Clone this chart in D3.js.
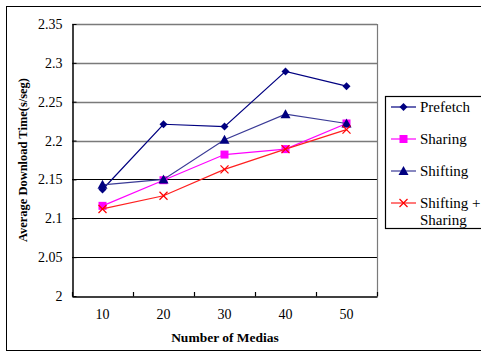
<!DOCTYPE html>
<html>
<head>
<meta charset="utf-8">
<script src="https://cdn.jsdelivr.net/npm/d3@7"></script>
<style>
  body { margin: 0; background: #fff; }
  svg text { font-family: "Liberation Serif", "DejaVu Serif", serif !important; }
</style>
</head>
<body>
<figure id="chart" style="margin:0"></figure>
<script>
// data
const medias = [10, 20, 30, 40, 50];
const prefetch = [2.137, 2.221, 2.218, 2.289, 2.270];
const sharing = [2.116, 2.149, 2.182, 2.189, 2.222];
const shifting = [2.143, 2.150, 2.201, 2.234, 2.222];
const shiftSharing = [2.112, 2.129, 2.163, 2.189, 2.214];
const yTicks = [2, 2.05, 2.1, 2.15, 2.2, 2.25, 2.3, 2.35];

const series = [
  { name: ['Prefetch'], values: prefetch, color: '#000080', line: '#000080', mark: 'diamond' },
  { name: ['Sharing'], values: sharing, color: '#ff00ff', line: '#ff00ff', mark: 'square' },
  { name: ['Shifting'], values: shifting, color: '#000080', line: '#3a3a96', mark: 'triangle' },
  { name: ['Shifting +', 'Sharing'], values: shiftSharing, color: '#ff0000', line: '#ff2020', mark: 'cross' }
];

const W = 481, H = 352;
const plot = { left: 72, right: 377, top: 24, bottom: 296 };

const svg = d3.select('#chart').append('svg')
    .attr('width', W)
    .attr('height', H);

// outer frame
svg.append('rect')
    .attr('x', 6.5).attr('y', 6.5)
    .attr('width', 490).attr('height', 344)
    .attr('fill', 'none').attr('stroke', '#000').attr('stroke-width', 1);

const x = d3.scaleBand()
    .domain(medias)
    .range([plot.left, plot.right]);

const y = d3.scaleLinear()
    .domain([2, 2.35])
    .range([plot.bottom, plot.top]);

// gridlines
svg.append('g').selectAll('line')
    .data(yTicks.filter(d => d > 2))
    .enter().append('line')
    .attr('x1', plot.left).attr('x2', plot.right)
    .attr('y1', d => Math.round(y(d)) + 0.5)
    .attr('y2', d => Math.round(y(d)) + 0.5)
    .attr('stroke', d => d >= 2.2 ? '#7a7a7a' : '#000')
    .attr('stroke-width', d => d >= 2.2 ? 1.6 : 1);

// right border of plot
svg.append('line')
    .attr('x1', plot.right + 0.5).attr('x2', plot.right + 0.5)
    .attr('y1', plot.top).attr('y2', plot.bottom)
    .attr('stroke', '#7a7a7a').attr('stroke-width', 1.2);

// Y axis (ticks point inward)
svg.append('g')
    .attr('transform', 'translate(' + (plot.left + 0.5) + ',0)')
    .call(d3.axisLeft(y).tickValues(yTicks).tickSizeInner(-4).tickSizeOuter(0).tickPadding(10)
      .tickFormat(d => d3.format('')(+d.toFixed(2))))
    .call(g => g.select('.domain').attr('stroke', '#000').attr('stroke-width', 1.5))
    .call(g => g.selectAll('.tick line').attr('stroke', '#000'))
    .selectAll('text')
    .attr('font-size', 14)
    .attr('fill', '#000');

// X axis
const xAxis = svg.append('g')
    .attr('transform', 'translate(0,' + (plot.bottom + 0.5) + ')')
    .call(d3.axisBottom(x).tickSize(0).tickPadding(13))
    .call(g => g.select('.domain').attr('stroke', '#000').attr('stroke-width', 1.5));
xAxis.selectAll('text')
    .attr('font-size', 14)
    .attr('fill', '#000');

// tick marks between categories, pointing up into the plot
const edges = medias.map(m => x(m)).concat([x(medias[medias.length - 1]) + x.bandwidth()]);
svg.append('g').selectAll('line')
    .data(edges)
    .enter().append('line')
    .attr('x1', d => Math.round(d) + 0.5).attr('x2', d => Math.round(d) + 0.5)
    .attr('y1', plot.bottom - 4).attr('y2', plot.bottom + 0.5)
    .attr('stroke', '#000').attr('stroke-width', 1.2);

// axis titles
svg.append('text')
    .attr('x', 225)
    .attr('y', 342)
    .attr('text-anchor', 'middle')
    .attr('font-size', 13.5)
    .attr('font-weight', 'bold')
    .text('Number of Medias');

svg.append('text')
    .attr('transform', 'translate(27,160) rotate(-90)')
    .attr('text-anchor', 'middle')
    .attr('font-size', 13)
    .attr('font-weight', 'bold')
    .attr('textLength', 164)
    .attr('lengthAdjust', 'spacingAndGlyphs')
    .text('Average Download Time(s/seg)');

const cx = d => x(d) + x.bandwidth() / 2;

function drawMark(g, type, color) {
  if (type === 'diamond') {
    g.append('path').attr('d', 'M0,-4L4,0L0,4L-4,0Z').attr('fill', color);
  } else if (type === 'square') {
    g.append('rect').attr('x', -4).attr('y', -4).attr('width', 8).attr('height', 8).attr('fill', color);
  } else if (type === 'triangle') {
    g.append('path').attr('d', 'M0,-5L5,4L-5,4Z').attr('fill', color);
  } else {
    g.append('path').attr('d', 'M-4,-4L4,4M-4,4L4,-4').attr('stroke', color).attr('stroke-width', 1.2);
  }
}

const line = d3.line().x((d, i) => cx(medias[i])).y(d => y(d));

series.forEach(s => {
  svg.append('path')
      .datum(s.values)
      .attr('d', line)
      .attr('fill', 'none')
      .attr('stroke', s.line)
      .attr('stroke-width', 1.2);
  s.values.forEach((v, i) => {
    const g = svg.append('g').attr('transform', 'translate(' + cx(medias[i]) + ',' + y(v) + ')');
    drawMark(g, s.mark, s.color);
  });
});

// legend
const legend = svg.append('g');
legend.append('rect')
    .attr('x', 385.5).attr('y', 96.5)
    .attr('width', 110).attr('height', 132)
    .attr('fill', '#fff').attr('stroke', '#000').attr('stroke-width', 1.2);

const rowY = [107, 139, 171, 203];
series.forEach((s, i) => {
  const g = legend.append('g').attr('transform', 'translate(0,' + rowY[i] + ')');
  g.append('line')
      .attr('x1', 391).attr('x2', 416)
      .attr('stroke', s.line).attr('stroke-width', 1.2);
  const m = g.append('g').attr('transform', 'translate(403.5,0)');
  drawMark(m, s.mark, s.color);
  s.name.forEach((t, k) => {
    g.append('text')
        .attr('x', 420)
        .attr('y', 5 + k * 17)
        .attr('font-size', 15)
        .text(t);
  });
});
</script>
</body>
</html>
